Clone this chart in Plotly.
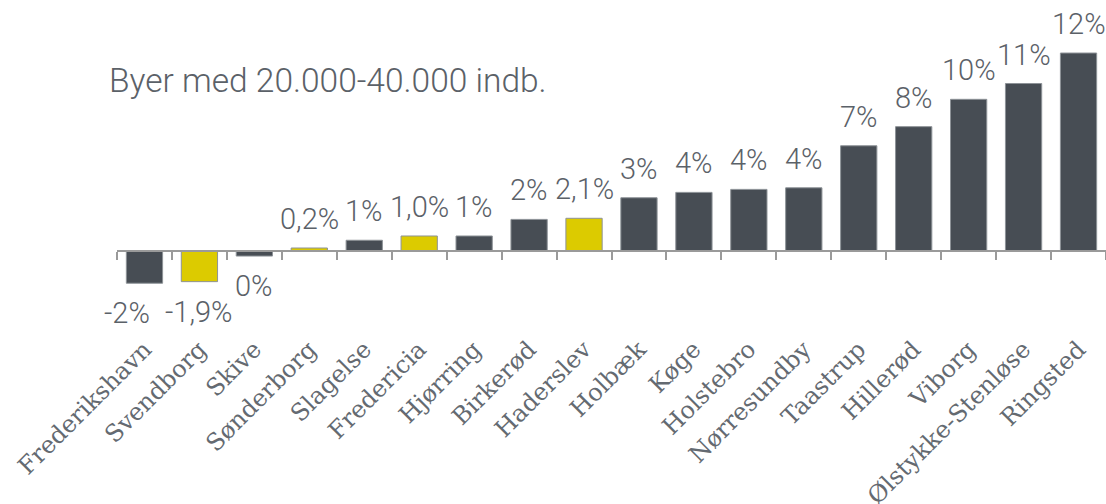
import plotly.graph_objects as go

cities = ["Frederikshavn", "Svendborg", "Skive", "Sønderborg", "Slagelse", "Fredericia",
          "Hjørring", "Birkerød", "Haderslev", "Holbæk", "Køge", "Holstebro", "Nørresundby",
          "Taastrup", "Hillerød", "Viborg", "Ølstykke-Stenløse", "Ringsted"]
values = [-2.04, -1.94, -0.32, 0.19, 0.68, 0.95, 0.95, 2.0, 2.07, 3.37, 3.71, 3.9, 4.0,
          6.66, 7.87, 9.6, 10.6, 12.53]
labels = ["-2%", "-1,9%", "0%", "0,2%", "1%", "1,0%", "1%", "2%", "2,1%", "3%", "4%", "4%",
          "4%", "7%", "8%", "10%", "11%", "12%"]
highlight = [False, True, False, True, False, True, False, False, True, False, False, False,
             False, False, False, False, False, False]
title_text = "Byer med 20.000-40.000 indb."

DARK = "#474d54"
YELLOW = "#dccb00"
TEXT = "#5b6168"
CAT_TEXT = "#646a71"

ymax = 251 / 15.8
ymin = -(404 - 251) / 15.8
zero_pos = -ymin / (ymax - ymin)

fig = go.Figure()
fig.add_trace(go.Bar(
    x=cities, y=values, width=0.66,
    marker=dict(color=[YELLOW if h else DARK for h in highlight],
                line=dict(color="#8d9297", width=1)),
    hoverinfo="skip",
))

for i, (c, v, t) in enumerate(zip(cities, values, labels)):
    fig.add_annotation(
        x=c, y=v, text=t, showarrow=False,
        yanchor="bottom" if v >= 0 else "top",
        yshift=10 if v >= 0 else -11,
        xshift=-17 if i == 0 else 0,
        font=dict(family="Roboto", size=29, color=TEXT, weight=300),
    )

fig.add_annotation(
    xref="paper", yref="paper", x=-0.01, y=0.80, xanchor="left", yanchor="middle",
    text=title_text, showarrow=False,
    font=dict(family="Roboto", size=33.5, color=TEXT, weight=300),
)

fig.update_layout(
    width=1106, height=504,
    margin=dict(l=117, r=0, t=0, b=100, autoexpand=False),
    plot_bgcolor="white", paper_bgcolor="white",
    showlegend=False,
    xaxis=dict(
        type="category", anchor="free", position=zero_pos, automargin=False,
        range=[-0.5, len(cities) - 0.5], autorange=False,
        showline=True, linecolor="#9a9a9a", linewidth=1.5,
        ticks="outside", ticklen=8, tickcolor="#9a9a9a", tickwidth=1.5,
        tickson="boundaries", tickangle=-45, ticklabelstandoff=74,
        tickfont=dict(family="DejaVu Serif", size=24, color=CAT_TEXT),
        showgrid=False, zeroline=False,
    ),
    yaxis=dict(range=[ymin, ymax], visible=False, showgrid=False, zeroline=False,
               automargin=False),
)

fig.write_html("out.html", config={"displayModeBar": False},
               post_script="document.body.style.margin='0';document.body.style.overflow='hidden';")
